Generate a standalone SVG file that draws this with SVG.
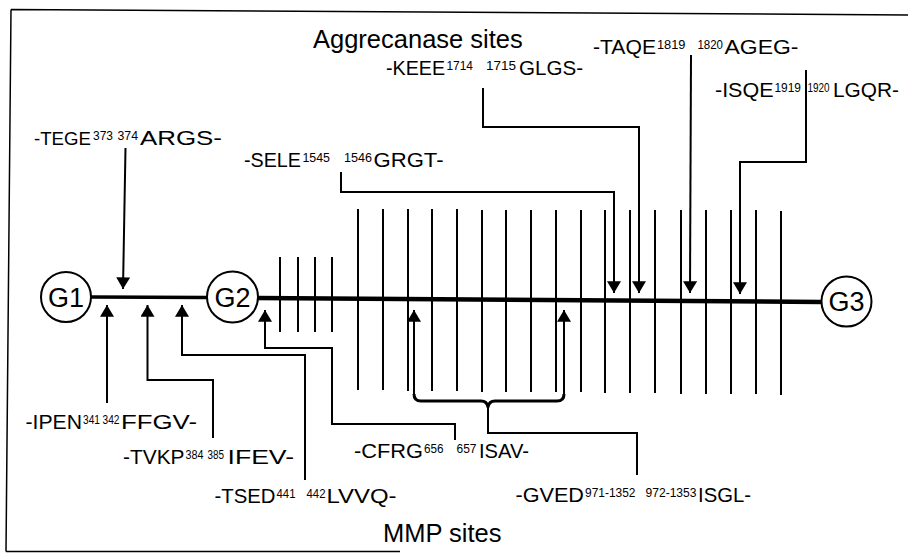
<svg xmlns="http://www.w3.org/2000/svg" width="908" height="554" viewBox="0 0 908 554">
<style>
  .frame{stroke:#000;stroke-width:1.5;fill:none}
  .node circle{fill:#fff;stroke:#000;stroke-width:2}
  .node text{font-family:"Liberation Sans",Arial,sans-serif;font-size:27px;text-anchor:middle;fill:#000}
  .main{stroke:#000;fill:none;stroke-linecap:butt}
  .tick{stroke:#000;stroke-width:2}
  .conn{stroke:#000;stroke-width:2;fill:none}
  .brace{stroke:#000;stroke-width:3;fill:none;stroke-linejoin:round}
  .lbl{font-family:"Liberation Sans",Arial,sans-serif;font-size:21px;fill:#000}
  .sup{font-family:"Liberation Sans",Arial,sans-serif;font-size:12px;fill:#000}
  .title{font-family:"Liberation Sans",Arial,sans-serif;font-size:25.5px;fill:#000}
</style>
<defs>
  <marker id="ah" markerUnits="userSpaceOnUse" markerWidth="12" markerHeight="14" viewBox="0 0 10 12" refX="10" refY="6" orient="auto">
    <path d="M0,0 L10,6 L0,12 Z" fill="#000"/>
  </marker>
</defs>
<rect width="908" height="554" fill="#fff"/>
<g id="frame">
  <path class="frame" d="M11,9.5 L908,15 M11,9.5 L6,551.5 M6,551.5 L400,551.5"/>
</g>
<g id="titles">
  <text class="title" x="313" y="48">Aggrecanase sites</text>
  <text class="title" x="383" y="541.5">MMP sites</text>
</g>
<g id="backbone">
  <line class="main" x1="91" y1="297" x2="207" y2="297.5" stroke-width="3.5"/>
  <line class="main" x1="257" y1="298" x2="822" y2="302" stroke-width="4.5"/>
</g>
<g id="ticks">
  <path class="tick" d="M280,257V332 M298,257V332 M315,257V332 M332,257V332"/>
  <path class="tick" d="M358,209V390 M383,209V390 M408,209V391 M432,209V391 M457,209V391 M482,210V392 M506,210V392 M531,210V392 M556,210V392 M581,210V392 M605,210V393 M630,210V393 M655,210V393 M681,210V394 M706,210V394 M731,210V394 M756,210V394 M781,211V395"/>
</g>
<g id="G1" class="node"><circle cx="66" cy="297" r="25"/><text x="66" y="306.5">G1</text></g>
<g id="G2" class="node"><circle cx="232.5" cy="297" r="25.5"/><text x="232.5" y="306.5">G2</text></g>
<g id="G3" class="node"><circle cx="846.5" cy="301.5" r="25"/><text x="846.5" y="311">G3</text></g>
<g id="connectors">
  <path class="conn" marker-end="url(#ah)" d="M125.5,148 L123,289"/>
  <path class="conn" marker-end="url(#ah)" d="M341,172 V192 H614 V293"/>
  <path class="conn" marker-end="url(#ah)" d="M483,88 V127 H639 V293"/>
  <path class="conn" marker-end="url(#ah)" d="M691,55 L690,293"/>
  <path class="conn" marker-end="url(#ah)" d="M806,70 V162 H740 V294"/>
  <path class="conn" marker-end="url(#ah)" d="M107,403 V305"/>
  <path class="conn" marker-end="url(#ah)" d="M213,438 V380 H147.5 V305"/>
  <path class="conn" marker-end="url(#ah)" d="M305,480 V355 H182 V305"/>
  <path class="conn" marker-end="url(#ah)" d="M455,440 V424 H332 V348 H265 V310"/>
  <path class="conn" marker-end="url(#ah)" d="M414,396 V310"/>
  <path class="conn" marker-end="url(#ah)" d="M564,394 V310"/>
  <path class="brace" d="M414,394 Q414,401 421,401 H481 Q487,401 488,407 Q489,401 495,401 H557 Q564,401 564,394"/>
  <path class="conn" d="M488,407 V433 H637 V475"/>
</g>
<g id="labels">
  <g id="lbl-TEGE"><text class="lbl" x="34" y="145" style="font-size:18.8px" textLength="57" lengthAdjust="spacingAndGlyphs">-TEGE</text><text class="sup" x="93" y="140" textLength="20" lengthAdjust="spacingAndGlyphs">373</text><text class="sup" x="117.5" y="140" textLength="20.5" lengthAdjust="spacingAndGlyphs">374</text><text class="lbl" x="140" y="145" textLength="82" lengthAdjust="spacingAndGlyphs">ARGS-</text></g>
  <g id="lbl-SELE"><text class="lbl" x="244" y="166.5" textLength="57" lengthAdjust="spacingAndGlyphs">-SELE</text><text class="sup" x="302.5" y="161.5" textLength="27.5" lengthAdjust="spacingAndGlyphs">1545</text><text class="sup" x="344" y="161.5" textLength="28" lengthAdjust="spacingAndGlyphs">1546</text><text class="lbl" x="373.5" y="166.5" textLength="70" lengthAdjust="spacingAndGlyphs">GRGT-</text></g>
  <g id="lbl-KEEE"><text class="lbl" x="386" y="75" textLength="59" lengthAdjust="spacingAndGlyphs">-KEEE</text><text class="sup" x="446.5" y="70" textLength="26.5" lengthAdjust="spacingAndGlyphs">1714</text><text class="sup" x="486" y="70" textLength="30" lengthAdjust="spacingAndGlyphs">1715</text><text class="lbl" x="519" y="75" textLength="64" lengthAdjust="spacingAndGlyphs">GLGS-</text></g>
  <g id="lbl-TAQE"><text class="lbl" x="593" y="53.5" textLength="63" lengthAdjust="spacingAndGlyphs">-TAQE</text><text class="sup" x="657" y="48.5" textLength="28.5" lengthAdjust="spacingAndGlyphs">1819</text><text class="sup" x="697.5" y="48.5" textLength="25.5" lengthAdjust="spacingAndGlyphs">1820</text><text class="lbl" x="724.5" y="53.5" textLength="74" lengthAdjust="spacingAndGlyphs">AGEG-</text></g>
  <g id="lbl-ISQE"><text class="lbl" x="715" y="96.5" textLength="58.5" lengthAdjust="spacingAndGlyphs">-ISQE</text><text class="sup" x="774.5" y="91.5" textLength="26.5" lengthAdjust="spacingAndGlyphs">1919</text><text class="sup" x="807.5" y="91.5" textLength="22" lengthAdjust="spacingAndGlyphs">1920</text><text class="lbl" x="833" y="96.5" textLength="66" lengthAdjust="spacingAndGlyphs">LGQR-</text></g>
  <g id="lbl-IPEN"><text class="lbl" x="25.5" y="429" textLength="56.5" lengthAdjust="spacingAndGlyphs">-IPEN</text><text class="sup" x="83" y="424" textLength="17" lengthAdjust="spacingAndGlyphs">341</text><text class="sup" x="102.5" y="424" textLength="17" lengthAdjust="spacingAndGlyphs">342</text><text class="lbl" x="121" y="429" textLength="76" lengthAdjust="spacingAndGlyphs">FFGV-</text></g>
  <g id="lbl-TVKP"><text class="lbl" x="123" y="464" textLength="61.5" lengthAdjust="spacingAndGlyphs">-TVKP</text><text class="sup" x="185.5" y="459" textLength="18" lengthAdjust="spacingAndGlyphs">384</text><text class="sup" x="207.5" y="459" textLength="16.5" lengthAdjust="spacingAndGlyphs">385</text><text class="lbl" x="227.5" y="464" textLength="66.5" lengthAdjust="spacingAndGlyphs">IFEV-</text></g>
  <g id="lbl-TSED"><text class="lbl" x="214.5" y="503" textLength="61" lengthAdjust="spacingAndGlyphs">-TSED</text><text class="sup" x="276.5" y="498" textLength="19" lengthAdjust="spacingAndGlyphs">441</text><text class="sup" x="306.5" y="498" textLength="19" lengthAdjust="spacingAndGlyphs">442</text><text class="lbl" x="326.5" y="503" textLength="70" lengthAdjust="spacingAndGlyphs">LVVQ-</text></g>
  <g id="lbl-CFRG"><text class="lbl" x="354" y="458" textLength="69" lengthAdjust="spacingAndGlyphs">-CFRG</text><text class="sup" x="424" y="453" textLength="19.5" lengthAdjust="spacingAndGlyphs">656</text><text class="sup" x="456.5" y="453" textLength="20" lengthAdjust="spacingAndGlyphs">657</text><text class="lbl" x="479" y="458" textLength="50" lengthAdjust="spacingAndGlyphs">ISAV-</text></g>
  <g id="lbl-GVED"><text class="lbl" x="515.5" y="501.5" textLength="68.5" lengthAdjust="spacingAndGlyphs">-GVED</text><text class="sup" x="585" y="496.5" textLength="50.5" lengthAdjust="spacingAndGlyphs">971-1352</text><text class="sup" x="645.5" y="496.5" textLength="51" lengthAdjust="spacingAndGlyphs">972-1353</text><text class="lbl" x="698" y="501.5" textLength="53" lengthAdjust="spacingAndGlyphs">ISGL-</text></g>
</g>
</svg>
